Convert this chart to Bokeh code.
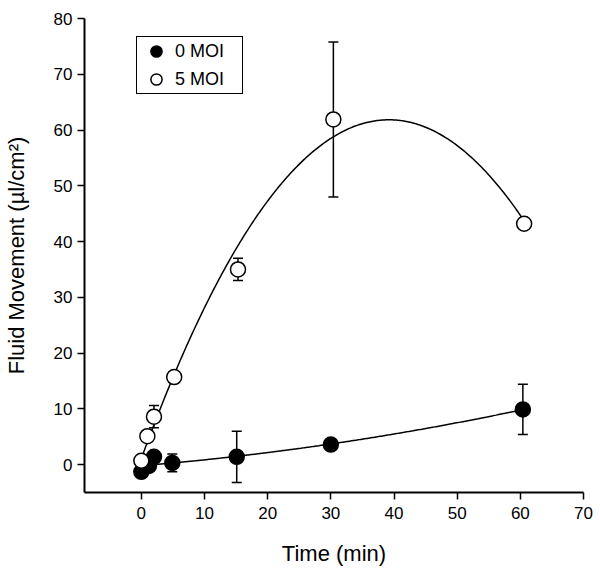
import numpy as np
from bokeh.plotting import figure
from bokeh.models import (ColumnDataSource, Whisker, TeeHead, Legend, LegendItem,
                          Range1d, FixedTicker)
from bokeh.embed import file_html
from bokeh.resources import INLINE

# ---- data ----
time_0moi = [0.0, 1.2, 2.0, 4.9, 15.1, 30.0, 60.4]
fluid_0moi = [-1.3, -0.25, 1.4, 0.3, 1.4, 3.6, 9.9]
err_0moi = [0.0, 0.0, 0.0, 1.6, 4.6, 0.0, 4.5]

time_5moi = [0.0, 0.95, 2.0, 5.2, 15.3, 30.4, 60.6]
fluid_5moi = [0.7, 5.1, 8.6, 15.7, 35.0, 61.9, 43.2]
err_5moi = [0.0, 0.0, 2.0, 0.0, 2.0, 13.9, 0.0]

x_ticks = [0, 10, 20, 30, 40, 50, 60, 70]
y_ticks = [0, 10, 20, 30, 40, 50, 60, 70, 80]

FONT = "Liberation Sans"

p = figure(width=598, height=573, x_range=Range1d(-9, 70), y_range=Range1d(-5, 80),
           output_backend="svg", toolbar_location=None,
           min_border_left=84, min_border_right=15, min_border_top=18, min_border_bottom=81)
p.outline_line_color = None
p.grid.visible = False
p.background_fill_color = "white"

for ax in (p.xaxis[0], p.yaxis[0]):
    ax.axis_line_width = 2
    ax.axis_line_color = "black"
    ax.major_tick_line_width = 1.5
    ax.major_tick_line_color = "black"
    ax.major_tick_in = 0
    ax.major_tick_out = 7
    ax.minor_tick_line_color = None
    ax.major_label_text_font = FONT
    ax.major_label_text_font_size = "17px"
    ax.major_label_text_color = "black"
    ax.axis_label_text_font = FONT
    ax.axis_label_text_font_size = "22px"
    ax.axis_label_text_font_style = "normal"
    ax.axis_label_text_color = "black"

p.xaxis.ticker = FixedTicker(ticks=x_ticks)
p.yaxis.ticker = FixedTicker(ticks=y_ticks)
p.xaxis.axis_label = "Time (min)"
p.yaxis.axis_label = "Fluid Movement (µl/cm²)"
p.xaxis.major_label_standoff = 7
p.yaxis.major_label_standoff = 5
p.xaxis.axis_label_standoff = 19
p.yaxis.axis_label_standoff = 22

# ---- fitted curves (2nd order polynomial fit of each series) ----
def fit_curve(t, y):
    coef = np.polyfit(t, y, 2)
    xs = np.linspace(min(t), max(t), 300)
    return xs, np.polyval(coef, xs)

xs0, ys0 = fit_curve(time_0moi, fluid_0moi)
xs5, ys5 = fit_curve(time_5moi, fluid_5moi)
p.line(xs0, ys0, line_color="black", line_width=1.5)
p.line(xs5, ys5, line_color="black", line_width=1.5)

# ---- error bars (below markers) ----
def add_err(t, y, e):
    idx = [i for i, v in enumerate(e) if v > 0]
    src = ColumnDataSource(dict(
        x=[t[i] for i in idx],
        upper=[y[i] + e[i] for i in idx],
        lower=[y[i] - e[i] for i in idx]))
    w = Whisker(source=src, base="x", upper="upper", lower="lower",
                line_color="black", line_width=1.5, level="underlay",
                upper_head=TeeHead(size=10, line_width=1.5, line_color="black"),
                lower_head=TeeHead(size=10, line_width=1.5, line_color="black"))
    p.add_layout(w)

add_err(time_0moi, fluid_0moi, err_0moi)
add_err(time_5moi, fluid_5moi, err_5moi)

r0 = p.scatter(time_0moi, fluid_0moi, marker="circle", size=15,
               fill_color="black", line_color="black", line_width=1.5)
r5 = p.scatter(time_5moi, fluid_5moi, marker="circle", size=15,
               fill_color="white", line_color="black", line_width=1.5)

legend = Legend(items=[LegendItem(label="0 MOI", renderers=[r0]),
                       LegendItem(label="5 MOI", renderers=[r5])],
                location=(52, 398), border_line_color="black", border_line_width=1.5,
                border_line_alpha=1.0,
                padding=0, spacing=0, glyph_width=38, glyph_height=28,
                label_standoff=0, label_width=67, margin=0,
                label_text_font=FONT, label_text_font_size="18px",
                label_text_color="black", background_fill_alpha=1)
p.add_layout(legend)

open("out.html", "w").write(file_html(p, INLINE))
